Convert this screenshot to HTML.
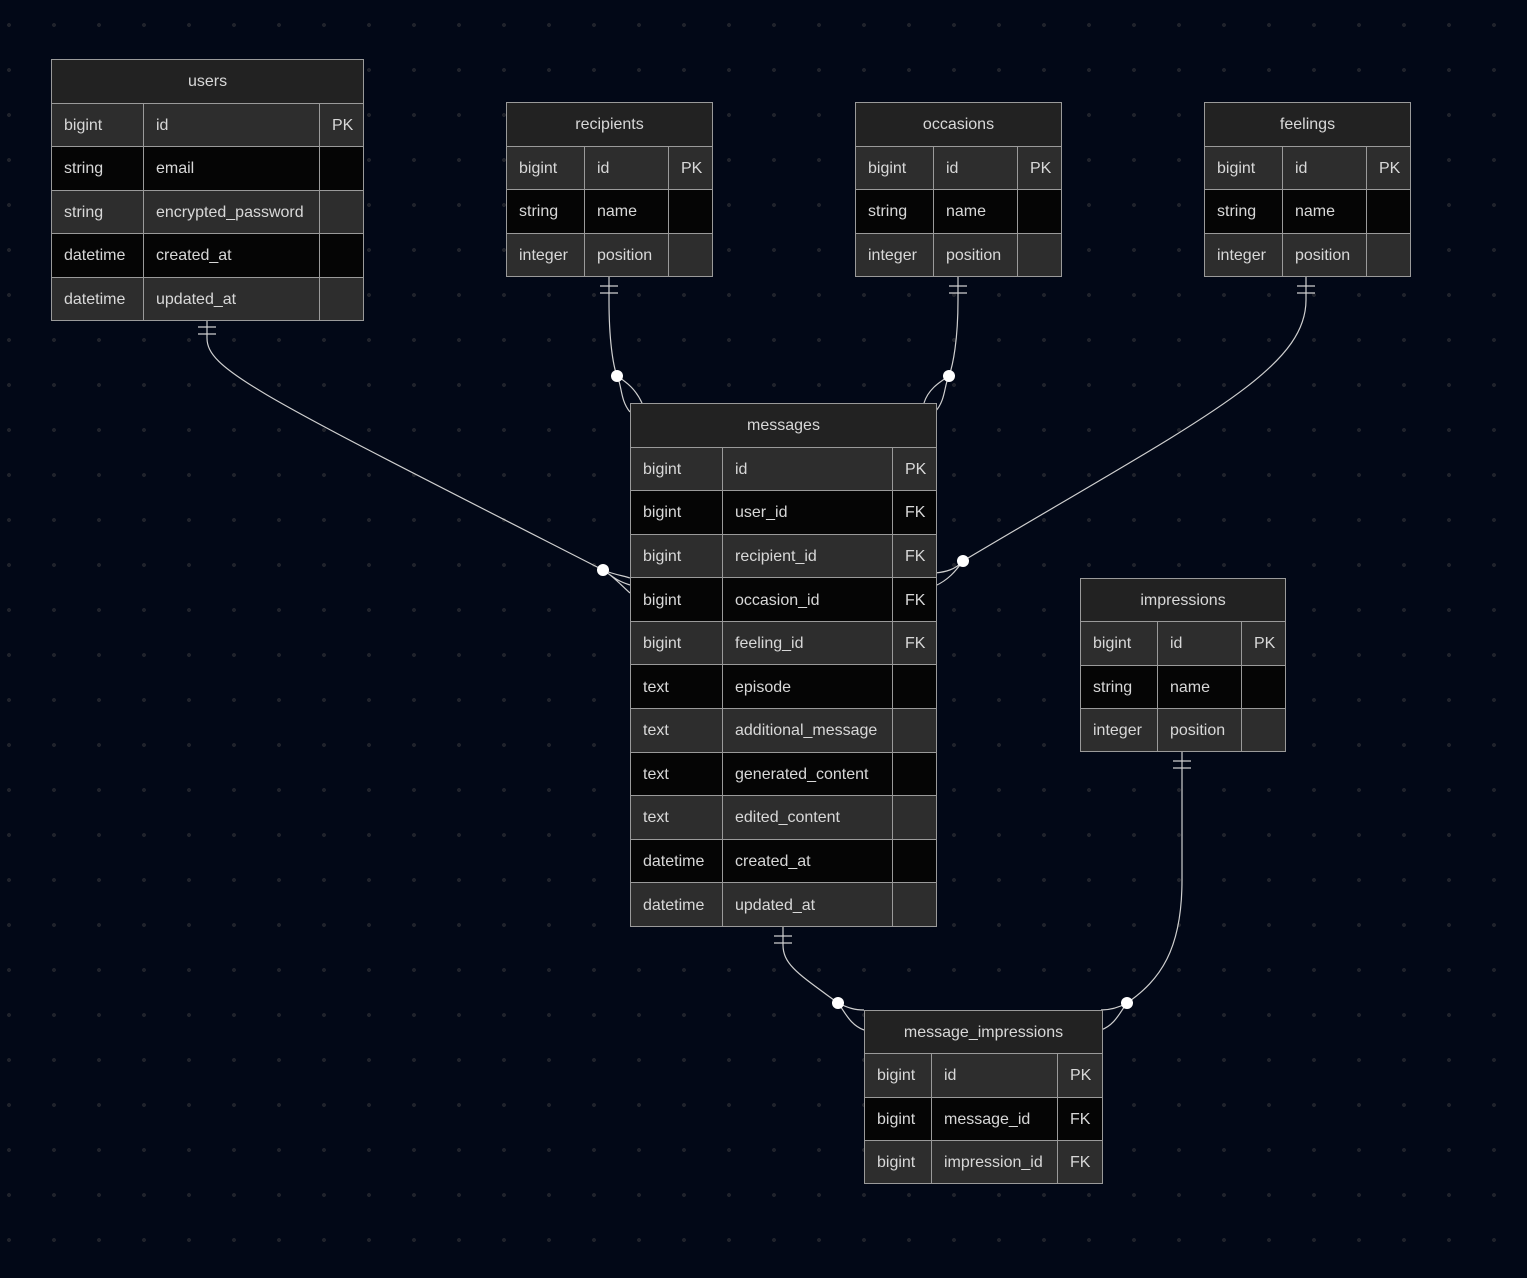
<!DOCTYPE html>
<html><head><meta charset="utf-8"><style>
html,body{margin:0;padding:0}
body{width:1527px;height:1278px;position:relative;overflow:hidden;background-color:#020817;
background-image:radial-gradient(circle,#1f222b 2px,transparent 2.1px);background-size:45px 45px;background-position:-13.5px 47.5px;
font-family:"Liberation Sans",sans-serif;}
table{position:absolute;border-collapse:collapse;table-layout:fixed;border:1.5px solid #9a9a9a;color:#d8d8d8;font-size:16px}
td,th{border:1px solid #9a9a9a;padding:2px 0 0 12px;white-space:nowrap;overflow:hidden}
th{background:#222;font-weight:normal;text-align:center;padding:2px 0 0 0}
tr:nth-child(even) td{background:#2d2d2d}
tr:nth-child(odd) td{background:#050505}
svg{position:absolute;left:0;top:0}
</style></head><body>
<svg width="1527" height="1278" fill="none" stroke="#cfcfcf" stroke-width="1.2">
<path d="M207,321 L207,338 C207,370 260,395 603,570"/>
<path d="M198,327 H216 M198,334 H216"/>
<path d="M603,570 C615,575 625,576 630,578 M603,570 C612,575 622,586 630,593 M603,570 C610,574 614,580 630,585"/>
<circle cx="603" cy="570" r="6" fill="#fff" stroke="none"/>
<path d="M609,277 L609,300 C609,340 613,365 617,376"/>
<path d="M600,286 H618 M600,293 H618"/>
<path d="M617,376 C622,385 620,400 630,412 M617,376 C628,383 636,390 642,403"/>
<circle cx="617" cy="376" r="6" fill="#fff" stroke="none"/>
<path d="M958,277 L958,300 C958,340 953,365 949,376"/>
<path d="M949,286 H967 M949,293 H967"/>
<path d="M949,376 C944,385 946,400 935,412 M949,376 C938,383 928,390 924,403"/>
<circle cx="949" cy="376" r="6" fill="#fff" stroke="none"/>
<path d="M1306,277 L1306,300 C1306,370 1200,420 963,561"/>
<path d="M1297,286 H1315 M1297,293 H1315"/>
<path d="M963,561 C955,570 945,572 935,573 M963,561 C955,572 948,580 935,586"/>
<circle cx="963" cy="561" r="6" fill="#fff" stroke="none"/>
<path d="M783,927 L783,945 C783,965 800,975 838,1003"/>
<path d="M774,936 H792 M774,943 H792"/>
<path d="M838,1003 C848,1008 855,1010 864,1010 M838,1003 C845,1012 850,1025 864,1030"/>
<circle cx="838" cy="1003" r="6" fill="#fff" stroke="none"/>
<path d="M1182,752 L1182,880 C1182,950 1160,980 1127,1003"/>
<path d="M1173,761 H1191 M1173,768 H1191"/>
<path d="M1127,1003 C1118,1008 1110,1010 1101,1010 M1127,1003 C1120,1012 1115,1025 1101,1030"/>
<circle cx="1127" cy="1003" r="6" fill="#fff" stroke="none"/>
</svg>

<table style="left:51px;top:59px;width:312px;height:262px">
<col style="width:92px"><col style="width:176px"><col style="width:44px">
<tr><th colspan="3">users</th></tr>
<tr><td>bigint</td><td>id</td><td>PK</td></tr>
<tr><td>string</td><td>email</td><td></td></tr>
<tr><td>string</td><td>encrypted_password</td><td></td></tr>
<tr><td>datetime</td><td>created_at</td><td></td></tr>
<tr><td>datetime</td><td>updated_at</td><td></td></tr>
</table>

<table style="left:506px;top:102px;width:206px;height:175px">
<col style="width:78px"><col style="width:84px"><col style="width:44px">
<tr><th colspan="3">recipients</th></tr>
<tr><td>bigint</td><td>id</td><td>PK</td></tr>
<tr><td>string</td><td>name</td><td></td></tr>
<tr><td>integer</td><td>position</td><td></td></tr>
</table>

<table style="left:855px;top:102px;width:206px;height:175px">
<col style="width:78px"><col style="width:84px"><col style="width:44px">
<tr><th colspan="3">occasions</th></tr>
<tr><td>bigint</td><td>id</td><td>PK</td></tr>
<tr><td>string</td><td>name</td><td></td></tr>
<tr><td>integer</td><td>position</td><td></td></tr>
</table>

<table style="left:1204px;top:102px;width:206px;height:175px">
<col style="width:78px"><col style="width:84px"><col style="width:44px">
<tr><th colspan="3">feelings</th></tr>
<tr><td>bigint</td><td>id</td><td>PK</td></tr>
<tr><td>string</td><td>name</td><td></td></tr>
<tr><td>integer</td><td>position</td><td></td></tr>
</table>

<table style="left:630px;top:403px;width:306px;height:524px">
<col style="width:92px"><col style="width:170px"><col style="width:44px">
<tr><th colspan="3">messages</th></tr>
<tr><td>bigint</td><td>id</td><td>PK</td></tr>
<tr><td>bigint</td><td>user_id</td><td>FK</td></tr>
<tr><td>bigint</td><td>recipient_id</td><td>FK</td></tr>
<tr><td>bigint</td><td>occasion_id</td><td>FK</td></tr>
<tr><td>bigint</td><td>feeling_id</td><td>FK</td></tr>
<tr><td>text</td><td>episode</td><td></td></tr>
<tr><td>text</td><td>additional_message</td><td></td></tr>
<tr><td>text</td><td>generated_content</td><td></td></tr>
<tr><td>text</td><td>edited_content</td><td></td></tr>
<tr><td>datetime</td><td>created_at</td><td></td></tr>
<tr><td>datetime</td><td>updated_at</td><td></td></tr>
</table>

<table style="left:1080px;top:578px;width:205px;height:174px">
<col style="width:77px"><col style="width:84px"><col style="width:44px">
<tr><th colspan="3">impressions</th></tr>
<tr><td>bigint</td><td>id</td><td>PK</td></tr>
<tr><td>string</td><td>name</td><td></td></tr>
<tr><td>integer</td><td>position</td><td></td></tr>
</table>

<table style="left:864px;top:1010px;width:238px;height:174px">
<col style="width:67px"><col style="width:126px"><col style="width:45px">
<tr><th colspan="3">message_impressions</th></tr>
<tr><td>bigint</td><td>id</td><td>PK</td></tr>
<tr><td>bigint</td><td>message_id</td><td>FK</td></tr>
<tr><td>bigint</td><td>impression_id</td><td>FK</td></tr>
</table>
</body></html>
